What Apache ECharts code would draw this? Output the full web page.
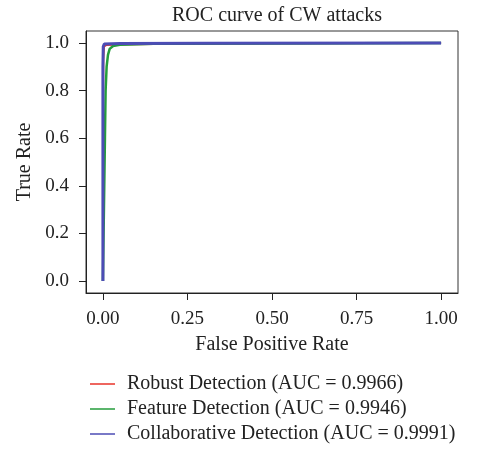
<!DOCTYPE html>
<html>
<head>
<meta charset="utf-8">
<script src="https://cdn.jsdelivr.net/npm/echarts@6/dist/echarts.min.js"></script>
<style>
  html, body { margin: 0; padding: 0; background: #fff; }
  #chart { width: 478px; height: 449px; }
</style>
</head>
<body>
<div id="chart"></div>
<script>
// tick positions
const xTicks = [0, 0.25, 0.5, 0.75, 1.0];
const yTicks = [0, 0.2, 0.4, 0.6, 0.8, 1.0];

// series names
const seriesNames = [
  'Robust Detection (AUC = 0.9966)',
  'Feature Detection (AUC = 0.9946)',
  'Collaborative Detection (AUC = 0.9991)',
];

// ROC points [fpr, tpr]
const robustRoc = [
  [0, 0], [0, 0.6], [0.002, 0.93], [0.004, 0.985], [0.01, 0.99],
  [0.05, 0.992], [0.2, 0.995], [0.5, 0.997], [0.8, 0.999], [1, 1],
];
const featureRoc = [
  [0, 0], [0.003, 0.3], [0.006, 0.6], [0.008, 0.8], [0.011, 0.9],
  [0.015, 0.95], [0.02, 0.975], [0.03, 0.987], [0.05, 0.992],
  [0.15, 0.996], [0.5, 0.998], [1, 1],
];
const collabRoc = [
  [0, 0], [0, 0.9], [0.001, 0.985], [0.004, 0.995], [0.05, 0.997],
  [0.3, 0.999], [1, 1],
];

const colors = ['#e8332a', '#259d3b', '#4c4cb5'];
const font = 'Liberation Serif';
const ink = '#222';

const myChart = echarts.init(document.getElementById('chart'));

const option = {
  animation: false,
  color: colors,
  title: {
    text: 'ROC curve of CW attacks',
    left: 272,
    top: 1,
    textAlign: 'center',
    textStyle: { fontFamily: font, fontSize: 20, fontWeight: 'normal', color: ink },
  },
  grid: {
    left: 86,
    right: 20,
    top: 31,
    bottom: 156,
    show: true,
    borderColor: '#333',
    borderWidth: 1,
  },
  legend: {
    orient: 'vertical',
    left: 90,
    top: 374,
    padding: 0,
    icon: 'rect',
    itemWidth: 25,
    itemHeight: 1.5,
    itemGap: 5,
    textStyle: { fontFamily: font, fontSize: 20, color: ink, padding: [0, 0, 0, 7] },
    data: seriesNames,
  },
  xAxis: {
    type: 'value',
    min: -0.05,
    max: 1.05,
    name: 'False Positive Rate',
    nameLocation: 'middle',
    nameGap: 42,
    nameTextStyle: { fontFamily: font, fontSize: 20, color: ink },
    axisLine: { show: true, onZero: false, lineStyle: { color: ink } },
    axisTick: { show: true, length: 7, customValues: xTicks, lineStyle: { color: ink } },
    axisLabel: {
      customValues: xTicks,
      fontFamily: font, fontSize: 19, color: ink, margin: 17,
      formatter: v => v.toFixed(2),
    },
    splitLine: { show: false },
  },
  yAxis: {
    type: 'value',
    min: -0.05,
    max: 1.05,
    name: 'True Rate',
    nameLocation: 'middle',
    nameGap: 51,
    nameTextStyle: { fontFamily: font, fontSize: 20, color: ink },
    axisLine: { show: true, onZero: false, lineStyle: { color: ink } },
    axisTick: { show: true, length: 7, customValues: yTicks, lineStyle: { color: ink } },
    axisLabel: {
      customValues: yTicks,
      fontFamily: font, fontSize: 19, color: ink, margin: 17,
      formatter: v => v.toFixed(1),
    },
    splitLine: { show: false },
  },
  series: [
    {
      name: seriesNames[0], type: 'line', data: robustRoc,
      symbol: 'none', lineStyle: { width: 1.5 }, z: 2,
    },
    {
      name: seriesNames[1], type: 'line', data: featureRoc,
      symbol: 'none', lineStyle: { width: 2.5 }, z: 3,
    },
    {
      name: seriesNames[2], type: 'line', data: collabRoc,
      symbol: 'none', lineStyle: { width: 3 }, z: 4,
    },
  ],
};

myChart.setOption(option);
</script>
</body>
</html>
